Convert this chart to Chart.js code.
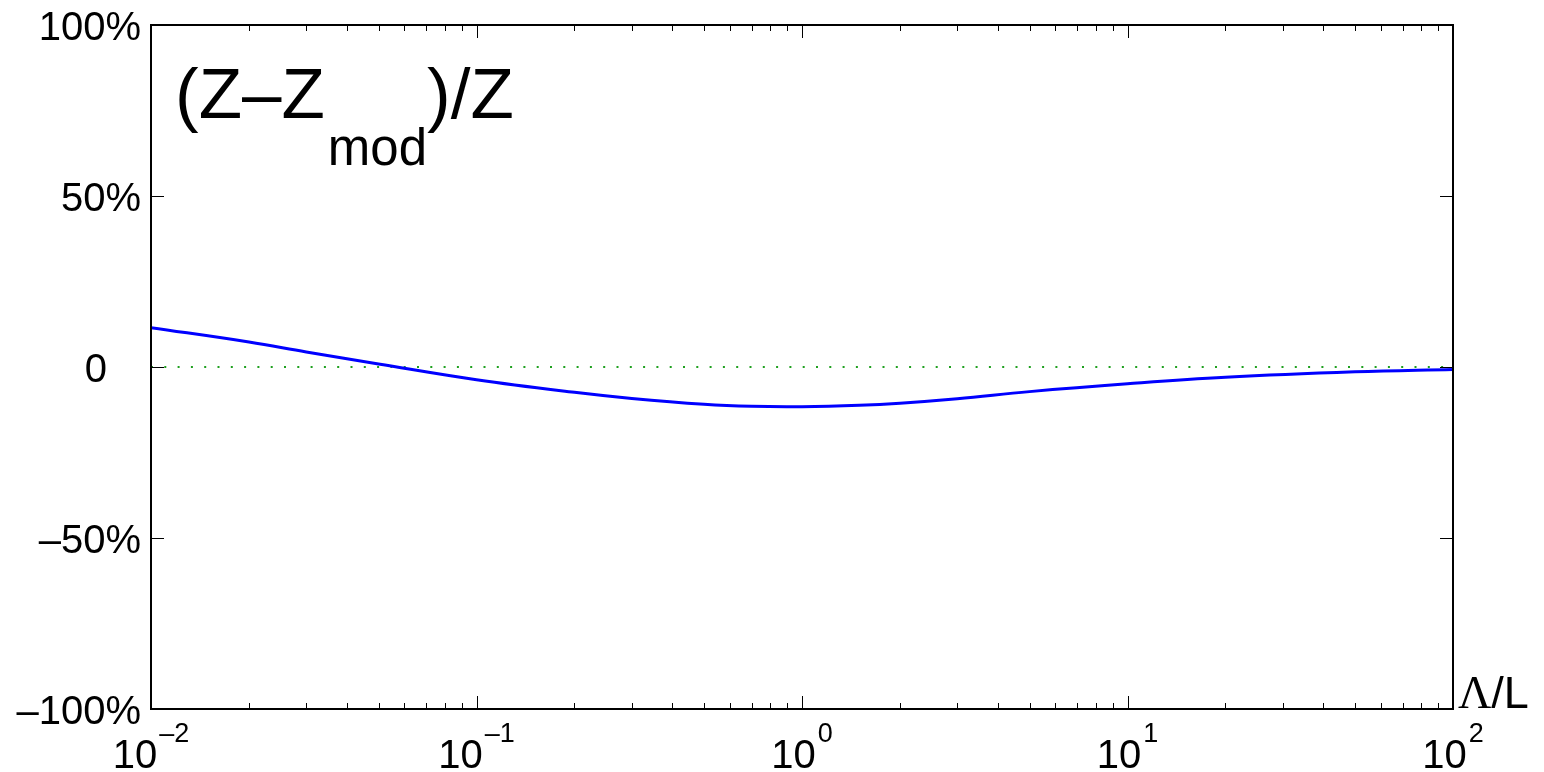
<!DOCTYPE html>
<html>
<head>
<meta charset="utf-8">
<title>(Z–Zmod)/Z vs Λ/L</title>
<script src="https://cdn.jsdelivr.net/npm/chart.js@4/dist/chart.umd.min.js"></script>
<style>
  html, body { margin: 0; padding: 0; background: #fff; }
  #wrap { width: 1544px; height: 772px; }
</style>
</head>
<body>
<div id="wrap"><canvas id="chart" width="1544" height="772"></canvas></div>
<script>
// values (x is log scale, y in percent)
const lambdaOverL = [0.01, 0.02, 0.03, 0.05, 0.1, 0.2, 0.3, 0.5, 0.7, 1, 1.5, 2, 3, 5, 10, 20, 50, 100];
const relDiff = [11.5, 7.3, 4.4, 0.9, -3.7, -7.4, -9.2, -10.9, -11.5, -11.6, -11.2, -10.6, -9.3, -7.2, -4.9, -3.0, -1.4, -0.7];

const xMin = 0.01;
const xMax = 100;
const xTickExponents = [-2, -1, 0, 1, 2];
const yTickValues = [100, 50, 0, -50, -100];
const yTickLabels = ["100%", "50%", "0", "\u201350%", "\u2013100%"];

const SANS = '"Liberation Sans", Arial, Helvetica, sans-serif';
const SERIF = '"Liberation Serif", "Times New Roman", serif';

// MATLAB-style frame: box, inward ticks on all four sides, labels
const framePlugin = {
  id: "frame",
  afterDraw(chart) {
    const { ctx, chartArea: a } = chart;
    const xs = chart.scales.x;
    const ys = chart.scales.y;
    ctx.save();

    // ticks
    ctx.strokeStyle = "#000";
    ctx.lineWidth = 1;
    const major = 13, minor = 6;
    ctx.beginPath();
    for (let e = -2; e <= 2; e++) {
      for (let m = 1; m <= 9; m++) {
        const v = m * Math.pow(10, e);
        if (v < xMin || v > xMax) continue;
        const px = Math.round(xs.getPixelForValue(v)) + 0.5;
        const len = m === 1 ? major : minor;
        ctx.moveTo(px, a.bottom); ctx.lineTo(px, a.bottom - len);
        ctx.moveTo(px, a.top); ctx.lineTo(px, a.top + len);
      }
    }
    yTickValues.forEach((v) => {
      const py = Math.round(ys.getPixelForValue(v)) + 0.5;
      ctx.moveTo(a.left, py); ctx.lineTo(a.left + major, py);
      ctx.moveTo(a.right, py); ctx.lineTo(a.right - major, py);
    });
    ctx.stroke();

    // box
    ctx.lineWidth = 2;
    ctx.strokeRect(a.left, a.top, a.right - a.left, a.bottom - a.top);

    // y labels
    ctx.fillStyle = "#000";
    ctx.font = "40px " + SANS;
    ctx.textBaseline = "alphabetic";
    yTickValues.forEach((v, i) => {
      const py = ys.getPixelForValue(v);
      ctx.textAlign = "right";
      const xRight = v === 0 ? 107 : 141;
      ctx.fillText(yTickLabels[i], xRight, py + 15);
    });

    // x labels: 10 with superscript exponent
    ctx.textAlign = "left";
    xTickExponents.forEach((e) => {
      const px = xs.getPixelForValue(Math.pow(10, e));
      const sup = e < 0 ? "\u2013" + (-e) : String(e);
      ctx.font = "40px " + SANS;
      const wBase = ctx.measureText("10").width;
      ctx.font = "27px " + SANS;
      const wSup = ctx.measureText(sup).width;
      const x0 = px - (wBase + 2 + wSup) / 2;
      ctx.font = "40px " + SANS;
      ctx.fillText("10", x0, 768);
      ctx.font = "27px " + SANS;
      ctx.fillText(sup, x0 + wBase + 2, 742);
    });

    // inset title (Z–Z_mod)/Z
    let x = 175;
    ctx.font = "71px " + SANS;
    ctx.fillText("(Z\u2013Z", x, 118);
    x += ctx.measureText("(Z\u2013Z").width + 3;
    ctx.font = "51px " + SANS;
    ctx.fillText("mod", x, 165);
    x += ctx.measureText("mod").width;
    ctx.font = "71px " + SANS;
    ctx.fillText(")/Z", x, 118);

    // axis label Λ/L
    ctx.font = "46px " + SERIF;
    ctx.fillText("\u039B", 1458, 708);
    const wL = ctx.measureText("\u039B").width;
    ctx.font = "45px " + SANS;
    ctx.fillText("/L", 1458 + wL, 708);

    ctx.restore();
  },
};

new Chart(document.getElementById("chart"), {
  type: "line",
  data: {
    datasets: [
      {
        label: "(Z-Zmod)/Z",
        data: lambdaOverL.map((v, i) => ({ x: v, y: relDiff[i] })),
        borderColor: "#0000ff",
        borderWidth: 3,
        pointRadius: 0,
        tension: 0.4,
        fill: false,
      },
      {
        label: "zero",
        data: [{ x: xMin, y: 0 }, { x: xMax, y: 0 }],
        borderColor: "#1fa01f",
        borderWidth: 2,
        borderDash: [2, 11.3],
        pointRadius: 0,
        fill: false,
      },
    ],
  },
  options: {
    responsive: false,
    animation: false,
    devicePixelRatio: 1,
    layout: { padding: { left: 151, top: 25, right: 91, bottom: 63 } },
    plugins: { legend: { display: false }, tooltip: { enabled: false } },
    scales: {
      x: { type: "logarithmic", min: xMin, max: xMax, display: false },
      y: { type: "linear", min: -100, max: 100, display: false },
    },
  },
  plugins: [framePlugin],
});
</script>
</body>
</html>
